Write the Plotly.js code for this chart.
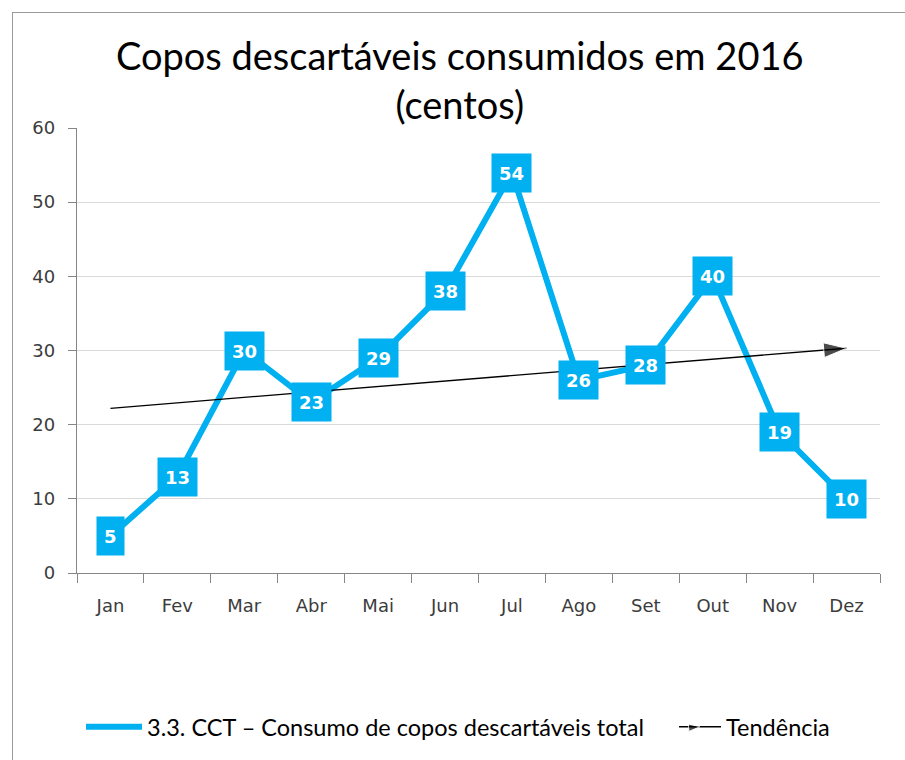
<!DOCTYPE html>
<html><head><meta charset="utf-8">
<script src="https://cdn.plot.ly/plotly-3.0.1.min.js"></script>
<style>
html,body{margin:0;padding:0;background:#fff;}
#frame{position:absolute;left:12px;top:12px;width:905px;height:760px;border:1.5px solid #9a9a9a;box-sizing:border-box;}
#chart{position:absolute;left:0;top:0;width:905px;height:760px;}
</style></head>
<body>
<div id="frame"></div>
<div id="chart"></div>
<script>
const months = ['Jan','Fev','Mar','Abr','Mai','Jun','Jul','Ago','Set','Out','Nov','Dez'];
const consumo = [5, 13, 30, 23, 29, 38, 54, 26, 28, 40, 19, 10];
const trendX = ['Jan','Dez'];
const trendY = [22.2, 30.3];
const seriesName = '3.3. CCT \u2013 Consumo de copos descart\u00e1veis total';
const trendName = 'Tend\u00eancia';
const titleText = 'Copos descart\u00e1veis consumidos em 2016<br>(centos)';

const FONT = 'Lato, "Noto Sans", sans-serif';
const TICKFONT = '"DejaVu Sans", Verdana, sans-serif';
const BLUE = '#00B0F0';

const traces = [
  {x: months, y: consumo, type: 'scatter', mode: 'lines', name: seriesName,
   line: {color: BLUE, width: 6}, cliponaxis: false, legend: 'legend'},
  {x: trendX, y: trendY, type: 'scatter', mode: 'lines+markers', name: trendName,
   line: {color: '#000', width: 1.3},
   marker: {symbol: 'arrow', size: [0, 24], color: '#000', angle: 85.3, angleref: 'up'},
   cliponaxis: false, legend: 'legend2'}
];

const annotations = months.map((m, i) => ({
  x: m, y: consumo[i], xref: 'x', yref: 'y', text: '<b>' + consumo[i] + '</b>',
  showarrow: false, bgcolor: BLUE, borderpad: 7, height: 24,
  font: {family: TICKFONT, size: 18, color: '#fff'}
}));

const legendBase = {orientation: 'h', y: -0.343, yanchor: 'middle', xanchor: 'left',
  font: {family: FONT, size: 23.5, color: '#000'}, itemwidth: 56, bgcolor: 'rgba(0,0,0,0)'};

const layout = {
  width: 905, height: 760,
  margin: {l: 77, r: 25, t: 128, b: 186},
  paper_bgcolor: 'rgba(0,0,0,0)', plot_bgcolor: 'rgba(0,0,0,0)',
  font: {family: FONT, color: '#404040', size: 15},
  title: {text: titleText, x: 0.508, xanchor: 'center', xref: 'container', y: 0.908, yanchor: 'middle',
          font: {family: FONT, size: 38, color: '#000'}},
  xaxis: {type: 'category', range: [-0.5, 11.5], tickson: 'boundaries', ticks: 'outside', ticklen: 9,
          tickcolor: '#868686', showline: true, linecolor: '#868686', linewidth: 1.3,
          ticklabelstandoff: 16,
          showgrid: false, tickfont: {family: TICKFONT, size: 18, color: '#3c3c3c'}, fixedrange: true},
  yaxis: {range: [0, 60], dtick: 10, ticks: 'outside', ticklen: 8, tickcolor: '#868686',
          showline: true, linecolor: '#868686', linewidth: 1.3, gridcolor: '#d9d9d9', gridwidth: 1.2,
          ticklabelstandoff: 9,
          zeroline: false, tickfont: {family: TICKFONT, size: 18, color: '#3c3c3c'}, fixedrange: true},
  legend: Object.assign({}, legendBase, {x: 0.005}),
  legend2: Object.assign({}, legendBase, {x: 0.7435, itemwidth: 42}),
  annotations: annotations,
  showlegend: true
};

Plotly.newPlot('chart', traces, layout, {displayModeBar: false, staticPlot: true});
</script>
</body></html>
